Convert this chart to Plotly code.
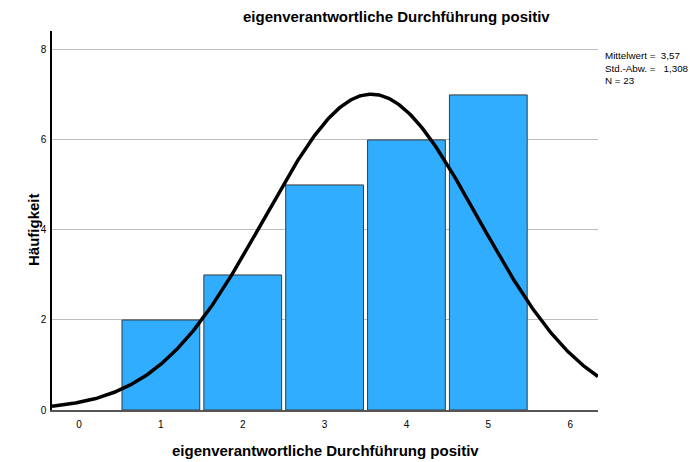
import numpy as np
import plotly.graph_objects as go

categories = [1, 2, 3, 4, 5]
counts = [2, 3, 5, 6, 7]
mean = 3.57
std = 1.308
n = 23
x_ticks = [0, 1, 2, 3, 4, 5, 6]
y_ticks = [0, 2, 4, 6, 8]
title = "eigenverantwortliche Durchführung positiv"

W, H = 690, 462
L, R, T, B = 52, 92, 31, 52

xr = [-0.33, 6.34]
xs = np.linspace(xr[0], xr[1], 400)
ys = n / (std * np.sqrt(2 * np.pi)) * np.exp(-0.5 * ((xs - mean) / std) ** 2)

fig = go.Figure()
fig.add_trace(go.Bar(x=categories, y=counts, width=0.95,
                     marker=dict(color="#30ADFF", line=dict(color="#3a3a3a", width=1))))
fig.add_trace(go.Scatter(x=xs, y=ys, mode="lines", line=dict(color="black", width=3.5)))


def px(x):
    return (x - L) / (W - L - R)


def py(y):
    return (H - B - y) / (H - T - B)


fig.update_layout(
    width=W, height=H,
    margin=dict(l=L, r=R, t=T, b=B),
    paper_bgcolor="white", plot_bgcolor="white",
    showlegend=False,
    font=dict(family="Liberation Sans, Arial, sans-serif", color="black"),
    xaxis=dict(range=xr, tickvals=x_ticks, showgrid=False, zeroline=False,
               showline=True, linecolor="#555", linewidth=1.5, ticks="",
               tickfont=dict(size=10), ticklabelstandoff=4),
    yaxis=dict(range=[0, 8.42], tickvals=y_ticks, showgrid=True, gridcolor="#bdbdbd",
               gridwidth=1, zeroline=False, showline=True, linecolor="black",
               linewidth=1.5, ticks="", tickfont=dict(size=10), ticklabelstandoff=2),
    annotations=[
        dict(text="<b>" + title + "</b>", x=px(396), y=py(17), xref="paper", yref="paper",
             xanchor="center", yanchor="middle", showarrow=False, font=dict(size=15)),
        dict(text="<b>" + title + "</b>", x=px(325), y=py(450), xref="paper", yref="paper",
             xanchor="center", yanchor="middle", showarrow=False, font=dict(size=15)),
        dict(text="<b>Häufigkeit</b>", x=px(33), y=py(230), xref="paper", yref="paper",
             xanchor="center", yanchor="middle", textangle=-90, showarrow=False,
             font=dict(size=15)),
        dict(text="Mittelwert =  3,57<br>Std.-Abw. =   1,308<br>N = 23", x=px(603), y=py(48),
             xref="paper", yref="paper",
             showarrow=False, align="left", xanchor="left", yanchor="top",
             font=dict(size=9.8)),
    ],
)
fig.write_html("out.html", config={"displayModeBar": False})
with open("out.html", encoding="utf-8") as f:
    html = f.read()
html = html.replace("<head>", "<head><style>html,body{margin:0;padding:0;}</style>", 1)
with open("out.html", "w", encoding="utf-8") as f:
    f.write(html)
